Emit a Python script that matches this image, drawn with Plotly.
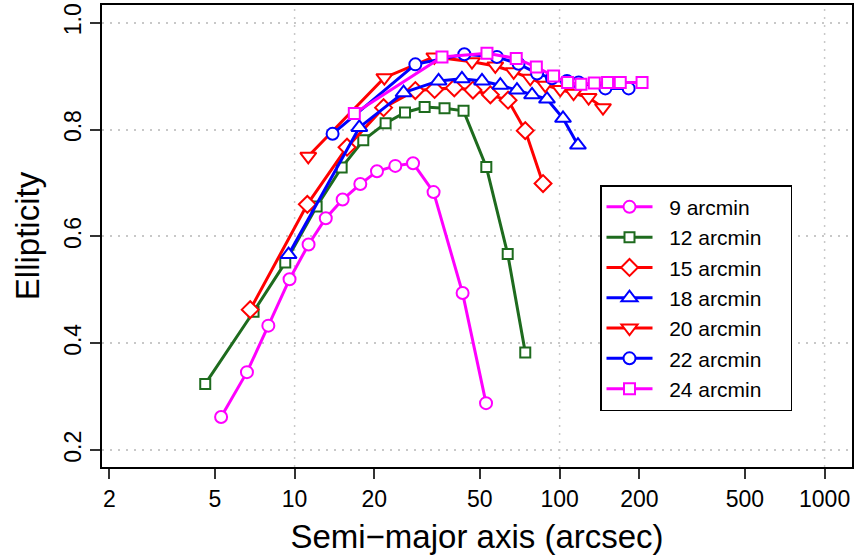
import plotly.graph_objects as go

# ---- data ----
series_names = ["9 arcmin", "12 arcmin", "15 arcmin", "18 arcmin", "20 arcmin", "22 arcmin", "24 arcmin"]

x_9 = [5.28, 6.61, 7.96, 9.57, 11.29, 13.11, 15.18, 17.70, 20.46, 23.99, 27.98, 33.45, 43.05, 52.77]
y_9 = [0.262, 0.346, 0.433, 0.520, 0.585, 0.634, 0.669, 0.698, 0.722, 0.732, 0.737, 0.683, 0.494, 0.288]

x_12 = [4.60, 7.00, 9.22, 12.11, 15.05, 18.16, 22.05, 26.10, 30.95, 36.8, 43.4, 52.9, 63.7, 74.2]
y_12 = [0.324, 0.459, 0.551, 0.656, 0.729, 0.780, 0.812, 0.832, 0.842, 0.840, 0.835, 0.730, 0.567, 0.383]

x_15 = [6.80, 11.17, 15.77, 21.67, 28.55, 33.75, 40.05, 47.1, 54.8, 63.9, 74.2, 86.6]
y_15 = [0.463, 0.660, 0.767, 0.841, 0.873, 0.875, 0.878, 0.874, 0.865, 0.855, 0.798, 0.699]

x_18 = [9.49, 17.55, 25.78, 34.94, 42.8, 50.95, 59.75, 69.05, 78.7, 89.6, 103.0, 117.3]
y_18 = [0.566, 0.804, 0.869, 0.891, 0.895, 0.891, 0.883, 0.874, 0.865, 0.857, 0.821, 0.771]

x_20 = [11.26, 21.81, 33.67, 46.7, 57.2, 67.1, 77.5, 88.3, 100.6, 112.9, 128.7, 145.8]
y_20 = [0.750, 0.897, 0.936, 0.927, 0.919, 0.908, 0.896, 0.883, 0.875, 0.868, 0.860, 0.841]

x_22 = [13.91, 28.55, 43.7, 58.0, 70.0, 82.2, 93.6, 106.6, 118.0, 148.8, 182.2]
y_22 = [0.792, 0.922, 0.941, 0.936, 0.923, 0.905, 0.896, 0.891, 0.888, 0.877, 0.877]

x_24 = [16.80, 35.99, 53.2, 68.6, 81.7, 94.9, 107.2, 120.4, 135.2, 151.7, 169.4, 204.7]
y_24 = [0.830, 0.936, 0.943, 0.933, 0.917, 0.900, 0.888, 0.885, 0.887, 0.888, 0.888, 0.888]

x_ticks = [2, 5, 10, 20, 50, 100, 200, 500, 1000]
y_ticks = [0.2, 0.4, 0.6, 0.8, 1.0]
x_grid = [10, 100, 1000]

xs = [x_9, x_12, x_15, x_18, x_20, x_22, x_24]
ys = [y_9, y_12, y_15, y_18, y_20, y_22, y_24]

# ---- styles ----
colors = ["#FF00FF", "#1E6B1E", "#FF0000", "#0000FF", "#FF0000", "#0000FF", "#FF00FF"]
symbols = ["circle", "square", "diamond", "triangle-up", "triangle-down", "circle", "square"]
sizes = [12, 10, 13, 14, 14, 12, 11]

FONT = "Liberation Sans, Arial, Helvetica, sans-serif"
NB = "\u00a0"

fig = go.Figure()
for name, x, y, c, s, sz in zip(series_names, xs, ys, colors, symbols, sizes):
    fig.add_trace(go.Scatter(
        x=x, y=y, name=NB * 2 + name + NB * 4, mode="lines+markers",
        line=dict(color=c, width=3),
        marker=dict(symbol=s, size=sz, color="white", line=dict(color=c, width=2)),
    ))

for gx in x_grid:
    fig.add_shape(type="line", xref="x", yref="paper", x0=gx, x1=gx, y0=0, y1=1,
                  layer="below", line=dict(color="#c8c8c8", width=1.5, dash="2px,6px"))

fig.update_layout(
    width=856, height=558,
    margin=dict(l=102, r=4, t=5, b=91),
    paper_bgcolor="white", plot_bgcolor="white",
    font=dict(family=FONT, color="black", size=23),
    showlegend=True,
    legend=dict(
        x=0.664, y=0.61, xanchor="left", yanchor="top",
        bordercolor="black", borderwidth=1.5, bgcolor="white",
        font=dict(size=21, family=FONT),
        itemwidth=46, tracegroupgap=0,
    ),
)

fig.update_xaxes(
    type="log", range=[0.2732, 3.1034], automargin=False,
    tickvals=x_ticks, ticktext=[str(v) for v in x_ticks],
    ticks="outside", ticklen=10, tickwidth=1.5, tickcolor="#333",
    showline=True, linecolor="black", linewidth=2, mirror=True,
    showgrid=False, zeroline=False,
    tickfont=dict(size=23),
    title=dict(text="Semi\u2212major axis (arcsec)", font=dict(size=33), standoff=14),
)
fig.update_yaxes(
    range=[0.1685, 1.0331], automargin=False,
    tickvals=y_ticks, ticktext=["%.1f" % v for v in y_ticks],
    tickangle=-90,
    ticks="outside", ticklen=10, tickwidth=1.5, tickcolor="#333",
    showline=True, linecolor="black", linewidth=2, mirror=True,
    showgrid=True, gridcolor="#c8c8c8", gridwidth=1.5, griddash="2px,6px",
    zeroline=False,
    tickfont=dict(size=23),
    title=dict(text="Ellipticity", font=dict(size=33), standoff=10),
)

fig.write_html("out.html", config={"displayModeBar": False},
               post_script="document.body.style.margin='0';")
